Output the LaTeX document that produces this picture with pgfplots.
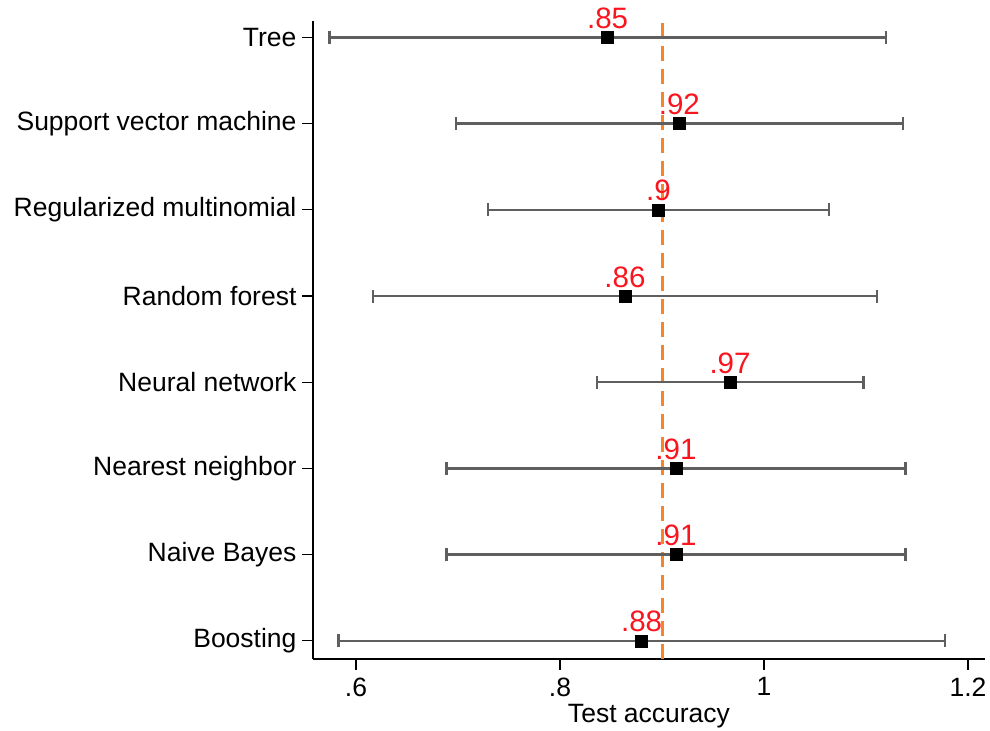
\documentclass[border=0pt]{standalone}
\usepackage{pgfplots}
\pgfplotsset{compat=1.18}
\usepackage{pgfplotstable}
\usepackage{fontspec}
\setmainfont{Liberation Sans}
\definecolor{ebgray}{RGB}{95,95,95}
\definecolor{dashorange}{RGB}{247,132,40}
\definecolor{lblred}{RGB}{250,20,30}

\pgfplotstableread{
x y err lab
0.8467 7 0.2729 .85
0.9170 6 0.2190 .92
0.8966 5 0.1670 .9
0.8637 4 0.2470 .86
0.9667 3 0.1307 .97
0.9137 2 0.2250 .91
0.9137 1 0.2250 .91
0.8800 0 0.2973 .88
}\datatable

\begin{document}
\begin{tikzpicture}
\begin{axis}[
  scale only axis,
  width=672pt, height=638pt,
  xmin=0.5578, xmax=1.2167,
  ymin=-0.21, ymax=7.19,
  axis x line*=bottom, axis y line*=left,
  axis line style={line width=1.2pt, black},
  xtick={0.6,0.8,1,1.2},
  xticklabels={.6,.8,1,1.2},
  ytick={0,1,2,3,4,5,6,7},
  yticklabels={Boosting,Naive Bayes,Nearest neighbor,Neural network,Random forest,Regularized multinomial,Support vector machine,Tree},
  tick align=outside,
  major tick length=11pt,
  tick style={line width=1.2pt, black},
  ticklabel style={font=\fontsize{26.5}{30}\selectfont},
  yticklabel style={xshift=-2pt},
  xticklabel style={yshift=-4pt},
  xlabel={Test accuracy},
  xlabel style={font=\fontsize{26.5}{30}\selectfont, yshift=-1pt},
  clip=false,
]
\addplot[dashorange, line width=3pt, dash pattern=on 15pt off 8pt] coordinates {(0.9,-0.21) (0.9,7.19)};
\addplot[
  only marks, mark=square*, mark size=6pt, mark options={black},
  error bars/.cd, x dir=both, x explicit,
  error bar style={ebgray, line width=2.4pt},
  error mark options={ebgray, line width=2.4pt, mark size=6.5pt, rotate=90},
] table[x=x, y=y, x error=err] {\datatable};
\addplot[
  only marks, mark=none,
  point meta=explicit symbolic,
  nodes near coords,
  nodes near coords style={anchor=base, yshift=9pt, text=lblred, font=\fontsize{29.5}{32}\selectfont},
] table[x=x, y=y, meta=lab] {\datatable};
\coordinate (SW) at (rel axis cs:0,0);
\coordinate (NE) at (rel axis cs:1,1);
\end{axis}
\pgfresetboundingbox
\path ([xshift=-313pt,yshift=-72pt]SW) rectangle ([xshift=5pt,yshift=21pt]NE);
\end{tikzpicture}
\end{document}
